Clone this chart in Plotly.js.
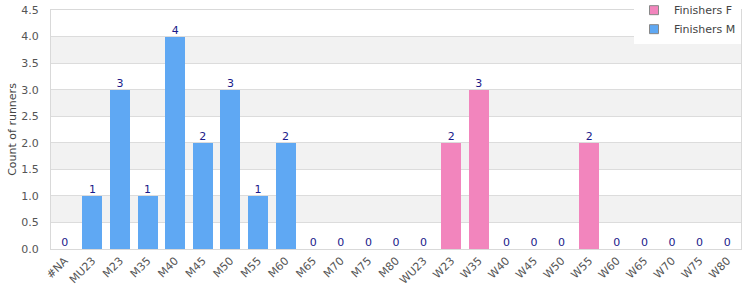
<!DOCTYPE html>
<html><head><meta charset="utf-8">
<script src="https://cdn.plot.ly/plotly-3.0.1.min.js"></script>
<style>html,body{margin:0;padding:0;background:#fff}#c{width:750px;height:300px}</style>
</head><body><div id="c"></div>
<script>
const categories = ["#NA","MU23","M23","M35","M40","M45","M50","M55","M60","M65","M70","M75","M80","WU23","W23","W35","W40","W45","W50","W55","W60","W65","W70","W75","W80"];
const finishersF = [0,0,0,0,0,0,0,0,0,0,0,0,0,0,2,3,0,0,0,2,0,0,0,0,0];
const finishersM = [0,1,3,1,4,2,3,1,2,0,0,0,0,0,0,0,0,0,0,0,0,0,0,0,0];
const seriesNames = ["Finishers F","Finishers M"];
const seriesColors = ['#f285bd','#5fa8f3'];
const totals = categories.map((c,i)=>finishersF[i]+finishersM[i]);

const bands = [];
for (let v=0.5; v<4.5; v+=1) bands.push({type:'rect',xref:'paper',yref:'y',x0:0,x1:1,y0:v,y1:v+0.5,fillcolor:'#f2f2f2',line:{width:0},layer:'below'});

const font = {family:'DejaVu Sans, Verdana, sans-serif', size:11, color:'#444'};
const data = [
  {type:'bar', name:seriesNames[0], x:categories, y:finishersF, marker:{color:seriesColors[0]}, showlegend:false, hoverinfo:'skip'},
  {type:'bar', name:seriesNames[1], x:categories, y:finishersM, marker:{color:seriesColors[1]}, showlegend:false, hoverinfo:'skip'},
  {type:'scatter', mode:'text', x:categories, y:totals, text:totals.map(String), textposition:'top center',
   textfont:{family:font.family,size:11,color:'#1a1a8a'}, showlegend:false, hoverinfo:'skip'},
  {type:'scatter', mode:'markers', name:seriesNames[0], x:[categories[0]], y:[null], marker:{symbol:'square',size:9,color:seriesColors[0],line:{color:'#888',width:1}}},
  {type:'scatter', mode:'markers', name:seriesNames[1], x:[categories[0]], y:[null], marker:{symbol:'square',size:9,color:seriesColors[1],line:{color:'#888',width:1}}}
];
const layout = {
  width:750, height:300,
  margin:{l:51,r:9,t:10,b:51,autoexpand:false},
  barmode:'stack', bargap:0.28,
  font:font,
  plot_bgcolor:'#fff', paper_bgcolor:'#fff',
  shapes:bands,
  xaxis:{type:'category', range:[-0.5, categories.length-0.5], tickangle:-45, showgrid:false, showline:true, linecolor:'#d9d9d9', mirror:true, ticks:'', tickfont:{size:11,color:'#555'}, automargin:false},
  yaxis:{range:[0,4.5], dtick:0.5, tickformat:'.1f', showgrid:true, gridcolor:'#dcdcdc', showline:true, linecolor:'#d9d9d9', mirror:true, zeroline:false, ticks:'', ticklabelstandoff:9, tickfont:{size:11,color:'#555'}, automargin:false,
    title:{text:'Count of runners', font:{size:11,color:'#444'}}},
  legend:{x:1, xanchor:'right', y:1.06, yanchor:'top', bgcolor:'#fff', font:{size:11,color:'#444'}, traceorder:'normal', tracegroupgap:0, itemwidth:30}
};
Plotly.newPlot('c', data, layout, {displayModeBar:false, staticPlot:true});
</script></body></html>
